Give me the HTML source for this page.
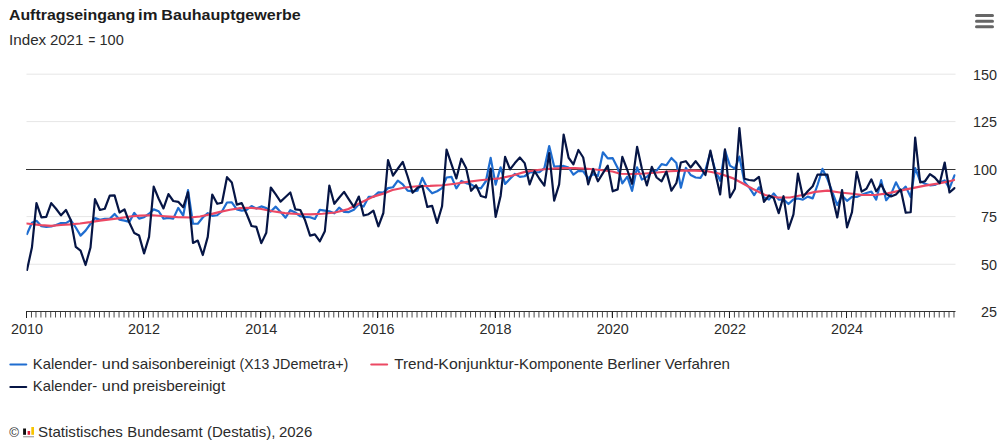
<!DOCTYPE html>
<html lang="de"><head><meta charset="utf-8"><title>Auftragseingang im Bauhauptgewerbe</title>
<style>html,body{margin:0;padding:0;background:#fff}body{width:1000px;height:441px;overflow:hidden}svg{display:block}text{font-family:"Liberation Sans",sans-serif;fill:#2b2b2b}.t{font-size:15px;font-weight:bold;fill:#1c1c1c}.s{font-size:15px}.ax{font-size:15.5px}.lg{font-size:15px}.ln{fill:none;stroke-width:2.2;stroke-linejoin:round;stroke-linecap:round}</style></head><body>
<svg width="1000" height="441" viewBox="0 0 1000 441">
<rect width="1000" height="441" fill="#fff"/>
<text class="t" y="20.1"><tspan x="8.91" textLength="126.34" lengthAdjust="spacingAndGlyphs">Auftragseingang</tspan> <tspan x="138.11" textLength="19.45" lengthAdjust="spacingAndGlyphs">im</tspan> <tspan x="161.38" textLength="139.37" lengthAdjust="spacingAndGlyphs">Bauhauptgewerbe</tspan></text>
<text class="s" y="45.2"><tspan x="9.01" textLength="37.21" lengthAdjust="spacingAndGlyphs">Index</tspan> <tspan x="49.94" textLength="33.34" lengthAdjust="spacingAndGlyphs">2021</tspan> <tspan x="88.5" textLength="6.8" lengthAdjust="spacingAndGlyphs">=</tspan> <tspan x="99.52" textLength="24.23" lengthAdjust="spacingAndGlyphs">100</tspan></text>
<g stroke="#666" stroke-width="3" stroke-linecap="round"><path d="M976.5 15.5H992.5M976.5 21.2H992.5M976.5 26.8H992.5"/></g>
<path d="M26.5 74.2 H955.5" stroke="#e6e6e6" stroke-width="1"/>
<path d="M26.5 121.6 H955.5" stroke="#e6e6e6" stroke-width="1"/>
<path d="M26.5 216.6 H955.5" stroke="#e6e6e6" stroke-width="1"/>
<path d="M26.5 264.25 H955.5" stroke="#e6e6e6" stroke-width="1"/>
<path d="M26 169.5 H955.5" stroke="#333" stroke-width="1"/>
<text class="ax" x="997" y="79.7" text-anchor="end" textLength="24.0" lengthAdjust="spacingAndGlyphs">150</text>
<text class="ax" x="997" y="126.7" text-anchor="end" textLength="24.0" lengthAdjust="spacingAndGlyphs">125</text>
<text class="ax" x="997" y="174.7" text-anchor="end" textLength="24.0" lengthAdjust="spacingAndGlyphs">100</text>
<text class="ax" x="997" y="221.7" text-anchor="end" textLength="16.0" lengthAdjust="spacingAndGlyphs">75</text>
<text class="ax" x="997" y="269.7" text-anchor="end" textLength="16.0" lengthAdjust="spacingAndGlyphs">50</text>
<text class="ax" x="997" y="316.7" text-anchor="end" textLength="16.0" lengthAdjust="spacingAndGlyphs">25</text>
<path d="M26 311.5 H955.5" stroke="#333" stroke-width="1"/>
<path d="M26.50 311.5V317.5M31.47 311.5V317.5M35.96 311.5V317.5M40.93 311.5V317.5M45.75 311.5V317.5M50.72 311.5V317.5M55.53 311.5V317.5M60.50 311.5V317.5M65.47 311.5V317.5M70.28 311.5V317.5M75.26 311.5V317.5M80.07 311.5V317.5M85.04 311.5V317.5M90.01 311.5V317.5M94.50 311.5V317.5M99.47 311.5V317.5M104.28 311.5V317.5M109.26 311.5V317.5M114.07 311.5V317.5M119.04 311.5V317.5M124.01 311.5V317.5M128.82 311.5V317.5M133.79 311.5V317.5M138.61 311.5V317.5M143.58 311.5V317.5M148.55 311.5V317.5M153.20 311.5V317.5M158.17 311.5V317.5M162.98 311.5V317.5M167.96 311.5V317.5M172.77 311.5V317.5M177.74 311.5V317.5M182.71 311.5V317.5M187.52 311.5V317.5M192.49 311.5V317.5M197.30 311.5V317.5M202.28 311.5V317.5M207.25 311.5V317.5M211.74 311.5V317.5M216.71 311.5V317.5M221.52 311.5V317.5M226.49 311.5V317.5M231.31 311.5V317.5M236.28 311.5V317.5M241.25 311.5V317.5M246.06 311.5V317.5M251.03 311.5V317.5M255.84 311.5V317.5M260.82 311.5V317.5M265.79 311.5V317.5M270.28 311.5V317.5M275.25 311.5V317.5M280.06 311.5V317.5M285.03 311.5V317.5M289.84 311.5V317.5M294.82 311.5V317.5M299.79 311.5V317.5M304.60 311.5V317.5M309.57 311.5V317.5M314.38 311.5V317.5M319.35 311.5V317.5M324.33 311.5V317.5M328.82 311.5V317.5M333.79 311.5V317.5M338.60 311.5V317.5M343.57 311.5V317.5M348.38 311.5V317.5M353.35 311.5V317.5M358.33 311.5V317.5M363.14 311.5V317.5M368.11 311.5V317.5M372.92 311.5V317.5M377.89 311.5V317.5M382.86 311.5V317.5M387.52 311.5V317.5M392.49 311.5V317.5M397.30 311.5V317.5M402.27 311.5V317.5M407.08 311.5V317.5M412.05 311.5V317.5M417.03 311.5V317.5M421.84 311.5V317.5M426.81 311.5V317.5M431.62 311.5V317.5M436.59 311.5V317.5M441.56 311.5V317.5M446.05 311.5V317.5M451.03 311.5V317.5M455.84 311.5V317.5M460.81 311.5V317.5M465.62 311.5V317.5M470.59 311.5V317.5M475.56 311.5V317.5M480.38 311.5V317.5M485.35 311.5V317.5M490.16 311.5V317.5M495.13 311.5V317.5M500.10 311.5V317.5M504.59 311.5V317.5M509.56 311.5V317.5M514.38 311.5V317.5M519.35 311.5V317.5M524.16 311.5V317.5M529.13 311.5V317.5M534.10 311.5V317.5M538.91 311.5V317.5M543.89 311.5V317.5M548.70 311.5V317.5M553.67 311.5V317.5M558.64 311.5V317.5M563.13 311.5V317.5M568.10 311.5V317.5M572.91 311.5V317.5M577.89 311.5V317.5M582.70 311.5V317.5M587.67 311.5V317.5M592.64 311.5V317.5M597.45 311.5V317.5M602.42 311.5V317.5M607.24 311.5V317.5M612.21 311.5V317.5M617.18 311.5V317.5M621.83 311.5V317.5M626.80 311.5V317.5M631.61 311.5V317.5M636.59 311.5V317.5M641.40 311.5V317.5M646.37 311.5V317.5M651.34 311.5V317.5M656.15 311.5V317.5M661.12 311.5V317.5M665.94 311.5V317.5M670.91 311.5V317.5M675.88 311.5V317.5M680.37 311.5V317.5M685.34 311.5V317.5M690.15 311.5V317.5M695.12 311.5V317.5M699.94 311.5V317.5M704.91 311.5V317.5M709.88 311.5V317.5M714.69 311.5V317.5M719.66 311.5V317.5M724.47 311.5V317.5M729.45 311.5V317.5M734.42 311.5V317.5M738.91 311.5V317.5M743.88 311.5V317.5M748.69 311.5V317.5M753.66 311.5V317.5M758.47 311.5V317.5M763.45 311.5V317.5M768.42 311.5V317.5M773.23 311.5V317.5M778.20 311.5V317.5M783.01 311.5V317.5M787.98 311.5V317.5M792.96 311.5V317.5M797.45 311.5V317.5M802.42 311.5V317.5M807.23 311.5V317.5M812.20 311.5V317.5M817.01 311.5V317.5M821.98 311.5V317.5M826.96 311.5V317.5M831.77 311.5V317.5M836.74 311.5V317.5M841.55 311.5V317.5M846.52 311.5V317.5M851.49 311.5V317.5M856.15 311.5V317.5M861.12 311.5V317.5M865.93 311.5V317.5M870.90 311.5V317.5M875.71 311.5V317.5M880.68 311.5V317.5M885.66 311.5V317.5M890.47 311.5V317.5M895.44 311.5V317.5M900.25 311.5V317.5M905.22 311.5V317.5M910.19 311.5V317.5M914.68 311.5V317.5M919.66 311.5V317.5M924.47 311.5V317.5M929.44 311.5V317.5M934.25 311.5V317.5M939.22 311.5V317.5M944.19 311.5V317.5M949.01 311.5V317.5M953.98 311.5V317.5" stroke="#333" stroke-width="1" opacity="0.88"/>
<path d="M26.5 311.5V318M143.5 311.5V318M260.5 311.5V318M377.5 311.5V318M495.5 311.5V318M612.5 311.5V318M729.5 311.5V318M846.5 311.5V318" stroke="#222" stroke-width="1"/>
<text class="ax" x="27.0" y="334" text-anchor="middle" textLength="32" lengthAdjust="spacingAndGlyphs">2010</text>
<text class="ax" x="144.1" y="334" text-anchor="middle" textLength="32" lengthAdjust="spacingAndGlyphs">2012</text>
<text class="ax" x="261.3" y="334" text-anchor="middle" textLength="32" lengthAdjust="spacingAndGlyphs">2014</text>
<text class="ax" x="378.4" y="334" text-anchor="middle" textLength="32" lengthAdjust="spacingAndGlyphs">2016</text>
<text class="ax" x="495.6" y="334" text-anchor="middle" textLength="32" lengthAdjust="spacingAndGlyphs">2018</text>
<text class="ax" x="612.7" y="334" text-anchor="middle" textLength="32" lengthAdjust="spacingAndGlyphs">2020</text>
<text class="ax" x="729.9" y="334" text-anchor="middle" textLength="32" lengthAdjust="spacingAndGlyphs">2022</text>
<text class="ax" x="847.0" y="334" text-anchor="middle" textLength="32" lengthAdjust="spacingAndGlyphs">2024</text>
<defs><clipPath id="plot"><rect x="26.5" y="70" width="929.2" height="245"/></clipPath></defs><g clip-path="url(#plot)">
<polyline class="ln" stroke="#1f6dd0" points="27.00,234.00 31.97,222.75 36.46,220.80 41.43,226.25 46.25,226.80 51.22,226.50 56.03,225.00 61.00,223.12 65.97,223.12 70.78,220.15 75.76,227.50 80.57,235.60 85.54,230.60 90.51,223.75 95.00,218.15 99.97,219.85 104.78,218.88 109.76,218.88 114.57,213.90 119.54,219.75 124.51,220.60 129.32,221.85 134.29,212.90 139.11,218.60 144.08,217.20 149.05,213.75 153.70,209.40 158.67,211.25 163.48,218.60 168.46,217.90 173.27,218.60 178.24,207.90 183.21,215.60 188.02,190.15 192.99,223.75 197.80,223.75 202.78,217.50 207.75,213.15 212.24,215.85 217.21,215.25 222.02,211.25 226.99,202.50 231.81,202.38 236.78,209.40 241.75,210.60 246.56,210.00 251.53,206.00 256.34,208.60 261.32,206.40 266.29,208.10 270.78,211.50 275.75,206.65 280.56,211.90 285.53,217.70 290.34,210.15 295.32,212.50 300.29,216.25 305.10,216.90 310.07,217.25 314.88,219.00 319.85,209.80 324.83,210.60 329.32,211.25 334.29,213.35 339.10,207.65 344.07,211.90 348.88,212.07 353.85,209.75 358.83,204.15 363.64,206.50 368.61,196.90 373.42,196.90 378.39,192.30 383.36,192.60 388.02,188.10 392.99,187.25 397.80,180.65 402.77,184.40 407.58,190.60 412.55,191.50 417.53,190.60 422.34,177.90 427.31,188.10 432.12,193.35 437.09,191.25 442.06,188.10 446.55,177.50 451.53,176.90 456.34,188.35 461.31,181.00 466.12,183.10 471.09,184.40 476.06,187.50 480.88,188.35 485.85,181.25 490.66,157.90 495.63,184.60 500.60,167.30 505.09,184.00 510.06,178.75 514.88,173.90 519.85,176.85 524.66,176.25 529.63,172.50 534.60,172.25 539.41,172.25 544.39,168.10 549.20,146.00 554.17,166.57 559.14,166.25 563.63,165.93 568.60,167.50 573.41,174.60 578.39,170.93 583.20,171.25 588.17,178.35 593.14,174.15 597.95,175.85 602.92,152.30 607.74,158.35 612.71,158.15 617.68,168.10 622.33,183.40 627.30,176.65 632.11,190.85 637.09,167.30 641.90,179.60 646.87,176.90 651.84,171.25 656.65,170.60 661.62,164.15 666.44,165.20 671.41,158.00 676.38,163.10 680.87,187.70 685.84,167.90 690.65,175.00 695.62,177.50 700.44,177.80 705.41,170.00 710.38,152.50 715.19,170.00 720.16,180.85 724.97,150.40 729.95,165.60 734.92,168.60 739.41,156.65 744.38,181.90 749.19,187.50 754.16,195.20 758.97,187.30 763.95,197.50 768.92,199.60 773.73,193.50 778.70,199.60 783.51,199.40 788.48,204.00 793.46,199.40 797.95,198.50 802.92,199.60 807.73,196.65 812.70,198.35 817.51,185.00 822.48,168.90 827.46,179.00 832.27,192.00 837.24,205.20 842.05,195.40 847.02,200.85 851.99,196.90 856.65,196.90 861.62,194.70 866.43,193.00 871.40,191.65 876.21,199.60 881.18,180.15 886.16,200.20 890.97,194.40 895.94,182.30 900.75,191.50 905.72,186.65 910.69,197.10 915.18,168.20 920.16,181.00 924.97,183.75 929.94,185.30 934.75,185.00 939.72,182.50 944.69,180.40 949.51,188.35 954.48,175.40"/>
<polyline class="ln" stroke="#ec4863" points="26.50,223.50 41.00,225.20 51.00,225.90 61.00,225.00 70.00,224.40 80.00,223.50 90.00,222.20 100.00,220.60 110.00,219.40 120.00,218.10 130.00,216.50 140.00,215.60 152.50,215.25 165.00,216.25 177.50,217.10 190.00,217.50 200.00,216.50 210.00,214.40 220.00,211.90 230.00,209.75 240.00,208.10 250.00,207.75 260.00,208.75 272.50,211.25 285.00,213.10 297.50,214.00 310.00,214.40 322.50,213.75 335.00,212.50 347.50,209.40 360.00,203.10 372.50,196.90 385.00,193.10 392.50,190.00 405.00,187.50 417.50,186.25 430.00,185.90 442.50,185.25 455.00,183.75 467.50,181.90 480.00,180.25 492.50,179.00 500.00,178.30 512.50,175.50 525.00,171.90 537.50,170.00 550.00,168.75 562.50,168.10 575.00,168.10 587.50,168.75 600.00,170.00 612.50,171.50 620.00,173.75 632.50,174.00 645.00,173.50 657.50,172.50 670.00,171.25 682.50,170.60 695.00,170.60 707.50,171.25 720.00,173.75 732.50,178.10 742.00,183.00 752.50,188.75 765.00,195.00 777.50,197.50 790.00,197.50 802.50,195.00 815.00,191.90 827.50,190.60 840.00,192.50 852.50,193.75 862.50,195.00 875.00,195.00 887.50,193.35 900.00,190.60 912.50,188.10 925.00,185.60 937.50,183.70 950.00,181.20 954.00,180.00"/>
<polyline class="ln" stroke="#061545" points="27.00,270.00 31.97,247.25 36.46,203.10 41.43,217.32 46.25,216.90 51.22,203.10 56.03,208.75 61.00,215.30 65.97,210.00 70.78,220.00 75.76,246.90 80.57,250.60 85.54,265.00 90.51,247.50 95.00,199.10 99.97,210.00 104.78,208.75 109.76,195.60 114.57,195.43 119.54,212.50 124.51,209.35 129.32,222.50 134.29,233.10 139.11,235.60 144.08,253.40 149.05,236.90 153.70,186.60 158.67,198.75 163.48,208.40 168.46,194.10 173.27,201.00 178.24,201.80 183.21,207.30 188.02,192.20 192.99,242.90 197.80,240.60 202.78,255.00 207.75,236.90 212.24,194.60 217.21,203.80 222.02,202.75 226.99,177.20 231.81,182.50 236.78,204.60 241.75,203.10 246.56,213.75 251.53,226.00 256.34,226.90 261.32,243.15 266.29,232.75 270.78,187.50 275.75,194.40 280.56,201.65 285.53,197.00 290.34,192.50 295.32,209.40 300.29,210.00 305.10,220.30 310.07,235.65 314.88,234.35 319.85,241.30 324.83,231.25 329.32,185.60 334.29,203.80 339.10,197.75 344.07,191.85 348.88,199.40 353.85,206.90 358.83,196.60 363.64,215.50 368.61,214.20 373.42,210.70 378.39,226.30 383.36,213.00 388.02,160.00 392.99,175.65 397.80,168.75 402.77,161.85 407.58,176.25 412.55,192.80 417.53,187.75 422.34,185.90 427.31,206.90 432.12,205.85 437.09,222.90 442.06,206.25 446.55,149.60 451.53,164.40 456.34,178.40 461.31,158.70 466.12,168.10 471.09,190.80 476.06,185.20 480.88,196.00 485.85,197.50 490.66,168.70 495.63,216.90 500.60,196.00 505.09,156.85 510.06,169.40 514.88,163.10 519.85,157.50 524.66,163.10 529.63,184.40 534.60,171.20 539.41,178.75 544.39,185.65 549.20,153.10 554.17,200.65 559.14,184.40 563.63,134.60 568.60,157.75 573.41,164.40 578.39,150.00 583.20,157.50 588.17,184.40 593.14,169.00 597.95,181.30 602.92,173.10 607.74,165.60 612.71,191.30 617.68,189.40 622.33,156.85 627.30,170.00 632.11,183.80 637.09,146.85 641.90,168.75 646.87,185.40 651.84,166.85 656.65,177.50 661.62,181.30 666.44,171.60 671.41,190.65 676.38,183.00 680.87,162.50 685.84,161.20 690.65,167.50 695.62,161.20 700.44,167.50 705.41,175.00 710.38,150.60 715.19,172.50 720.16,194.40 724.97,149.35 729.95,197.50 734.92,188.75 739.41,128.10 744.38,178.75 749.19,180.00 754.16,180.65 758.97,176.85 763.95,201.90 768.92,195.60 773.73,198.10 778.70,213.15 783.51,196.20 788.48,228.80 793.46,214.40 797.95,173.70 802.92,196.90 807.73,191.25 812.70,186.25 817.51,174.70 822.48,174.70 827.46,174.70 832.27,196.00 837.24,217.50 842.05,190.00 847.02,227.30 851.99,212.20 856.65,171.85 861.62,191.60 866.43,188.75 871.40,179.35 876.21,191.30 881.18,184.40 886.16,194.00 890.97,196.40 895.94,194.40 900.75,189.50 905.72,212.68 910.69,212.25 915.18,137.50 920.16,182.50 924.97,181.25 929.94,174.10 934.75,177.50 939.72,183.15 944.69,162.50 949.51,192.50 954.48,188.10"/>
</g>
<path class="ln" stroke="#1f6dd0" d="M10.4 364.5H26.2"/>
<text class="lg" y="368.9"><tspan x="32.82" textLength="64.28" lengthAdjust="spacingAndGlyphs">Kalender-</tspan> <tspan x="101.84" textLength="27.22" lengthAdjust="spacingAndGlyphs">und</tspan> <tspan x="132.06" textLength="103.19" lengthAdjust="spacingAndGlyphs">saisonbereinigt</tspan> <tspan x="239.58" textLength="29.59" lengthAdjust="spacingAndGlyphs">(X13</tspan> <tspan x="272.8" textLength="75.61" lengthAdjust="spacingAndGlyphs">JDemetra+)</tspan></text>
<path class="ln" stroke="#ec4863" d="M371.3 364.5H387.1"/>
<text class="lg" y="368.9"><tspan x="394.21" textLength="44.51" lengthAdjust="spacingAndGlyphs">Trend-</tspan><tspan x="438.39" textLength="80.74" lengthAdjust="spacingAndGlyphs">Konjunktur-</tspan><tspan x="519.08" textLength="84.17" lengthAdjust="spacingAndGlyphs">Komponente</tspan> <tspan x="607.17" textLength="53.47" lengthAdjust="spacingAndGlyphs">Berliner</tspan> <tspan x="664.66" textLength="65.35" lengthAdjust="spacingAndGlyphs">Verfahren</tspan></text>
<path class="ln" stroke="#061545" d="M10.4 387H26.2"/>
<text class="lg" y="391.4"><tspan x="32.82" textLength="64.28" lengthAdjust="spacingAndGlyphs">Kalender-</tspan> <tspan x="101.84" textLength="27.22" lengthAdjust="spacingAndGlyphs">und</tspan> <tspan x="132.85" textLength="92.35" lengthAdjust="spacingAndGlyphs">preisbereinigt</tspan></text>
<text x="9.3" y="437.3" style="font-size:13.2px">©</text>
<rect x="23.1" y="428.5" width="2.9" height="6.3" fill="#111"/><rect x="27.6" y="431" width="2.5" height="3.8" fill="#e0203a"/><rect x="31.3" y="427" width="2.7" height="7.8" fill="#f7c400"/><rect x="23.1" y="436.2" width="10.9" height="1.1" fill="#9a9a9a"/>
<text class="lg" y="436.6"><tspan x="38.12" textLength="84.79" lengthAdjust="spacingAndGlyphs">Statistisches</tspan> <tspan x="127.29" textLength="75.41" lengthAdjust="spacingAndGlyphs">Bundesamt</tspan> <tspan x="207.01" textLength="68.35" lengthAdjust="spacingAndGlyphs">(Destatis),</tspan> <tspan x="278.96" textLength="33.29" lengthAdjust="spacingAndGlyphs">2026</tspan></text>
</svg></body></html>
